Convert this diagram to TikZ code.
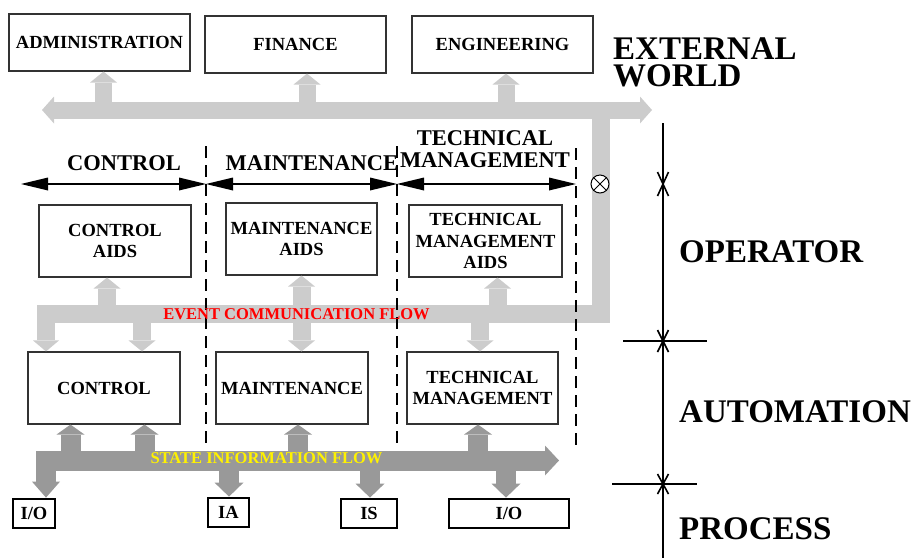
\documentclass[tikz,border=0pt]{standalone}
\usepackage{fontspec}
\setmainfont{Liberation Serif}
\usepackage{xcolor}
\usetikzlibrary{arrows.meta, positioning}

\definecolor{eventgrey}{HTML}{CCCCCC}
\definecolor{stategrey}{HTML}{999999}

\begin{document}
\begin{tikzpicture}[
  x=1pt, y=-1pt,
  box/.style={draw=black!80, line width=1.1pt, fill=white, minimum width=152pt, minimum height=72pt, align=center, inner sep=2pt, font=\fontsize{18.5}{21.5}\selectfont\bfseries},
  iobox/.style={draw, line width=2.8pt, fill=white, minimum height=29pt, inner sep=0pt, font=\fontsize{18.5}{20}\selectfont\bfseries},
  head/.style={font=\fontsize{22.5}{22}\selectfont\bfseries, align=center, inner sep=0pt},
  level/.style={font=\fontsize{33}{26.5}\selectfont\bfseries, anchor=base west, inner sep=0pt, align=left},
  flow/.style={font=\fontsize{16.5}{17}\selectfont\bfseries, inner sep=0pt},
  evbus/.style={draw=eventgrey, line width=18pt},
  ev/.style={draw=eventgrey, line width=17pt, -{Triangle[width=27pt, length=11pt, line width=0pt]}},
  stbus/.style={draw=stategrey, line width=20pt},
  st/.style={draw=stategrey, line width=20pt, -{Triangle[width=29pt, length=12pt, line width=0pt]}},
  span/.style={line width=2pt, {Triangle[width=13pt, length=27pt, line width=0pt]}-{Triangle[width=13pt, length=27pt, line width=0pt]}},
  divider/.style={line width=2.2pt, dash pattern=on 12pt off 7pt},
  tick/.style={line width=1.6pt}
]
\useasboundingbox (0,0) rectangle (916,558);

% Nodes
\node[box, minimum width=181pt, minimum height=57pt] (admin) at (99.5,42.5) {ADMINISTRATION};
\node[box, minimum width=181pt, minimum height=57pt] (finance) at (295.5,44.5) {FINANCE};
\node[box, minimum width=181pt, minimum height=57pt] (engin) at (502.5,44.5) {ENGINEERING};

\node[box] (caids) at (115,241) {CONTROL\\AIDS};
\node[box, minimum width=151pt] (maids) at (301.5,239) {MAINTENANCE\\AIDS};
\node[box, minimum width=153pt] (taids) at (485.5,241) {TECHNICAL\\MANAGEMENT\\AIDS};

\node[box] (ctrl) at (104,388) {CONTROL};
\node[box] (maint) at (292,388) {MAINTENANCE};
\node[box, minimum width=151pt] (tech) at (482.5,388) {TECHNICAL\\MANAGEMENT};

\node[iobox, minimum width=42pt] (io1) at (34,513.5) {I/O};
\node[iobox, minimum width=41pt] (ia) at (228.5,512.5) {IA};
\node[iobox, minimum width=56pt] (is) at (369,513.5) {IS};
\node[iobox, minimum width=120pt] (io2) at (509,513.5) {I/O};

\node[head] (hctrl) at (124,163.5) {CONTROL};
\node[head] (hmaint) at (312,163.5) {MAINTENANCE};
\node[head] (htech) at (485,149) {TECHNICAL\\MANAGEMENT};

\node[level] (world) at (613,86) {EXTERNAL\\WORLD};
\node[level] (oper) at (679,262) {OPERATOR};
\node[level] (auto) at (679,422) {AUTOMATION};
\node[level] (proc) at (679,539) {PROCESS};

% Bus points
\coordinate (tl) at (42,110);
\coordinate (tr) at (652,110);
\coordinate (ta) at (103.5,110);
\coordinate (tf) at (307,110);
\coordinate (te) at (506,110);
\coordinate (e0) at (46,314);
\coordinate (e1) at (107,314);
\coordinate (e2) at (142,314);
\coordinate (e3) at (301.5,314);
\coordinate (e4) at (480,314);
\coordinate (e5) at (497.5,314);
\coordinate (e9) at (601,314);
\coordinate (s0) at (46,460.5);
\coordinate (s1) at (70.5,460.5);
\coordinate (s2) at (144.5,460.5);
\coordinate (s3) at (229,460.5);
\coordinate (s4) at (298,460.5);
\coordinate (s5) at (370,460.5);
\coordinate (s6) at (478,460.5);
\coordinate (s7) at (506,460.5);
\coordinate (s9) at (559,460.5);

% Grey buses
\draw[evbus, line width=17pt, {Triangle[width=27pt, length=12pt, line width=0pt]}-{Triangle[width=27pt, length=12pt, line width=0pt]}] (tl) -- (tr);
\foreach \p/\n in {ta/admin, tf/finance, te/engin}
  \draw[ev] (\p) -- (\p |- \n.south);
\draw[evbus, {Triangle[width=26pt, length=11pt, line width=0pt]}-] (e0 |- ctrl.north) -- (e0) -- (e9) -- (e9 |- tl);
\foreach \p/\n in {e1/caids, e3/maids, e5/taids}
  \draw[ev, line width=18pt] (\p) -- (\p |- \n.south);
\foreach \p/\n in {e2/ctrl, e3/maint, e4/tech}
  \draw[ev, line width=18pt] (\p) -- (\p |- \n.north);

\draw[stbus, {Triangle[width=28pt, length=16pt, line width=0pt]}-{Triangle[width=30pt, length=14pt, line width=0pt]}] (s0 |- io1.north) -- (s0) -- (s9);
\foreach \p/\n in {s1/ctrl, s2/ctrl, s4/maint, s6/tech}
  \draw[st, -{Triangle[width=28pt, length=10pt, line width=0pt]}] (\p) -- (\p |- \n.south);
\foreach \p/\n in {s3/ia, s5/is, s7/io2}
  \draw[st, -{Triangle[width=29pt, length=14pt, line width=0pt]}] (\p) -- (\p |- \n.north);

% Areas
\coordinate (d0) at (21,184);
\coordinate (d1) at (206,184);
\coordinate (d2) at (397,184);
\coordinate (d3) at (576,184);
\draw[span] (d0) -- (d1);
\draw[span] (d1) -- (d2);
\draw[span] (d2) -- (d3);
\draw[divider] (206,146) -- (206,443);
\draw[divider] (397,146) -- (397,443);
\draw[divider] (576,148) -- (576,445);

\node[flow, text=red] (evtxt) at (296.5,314) {EVENT COMMUNICATION FLOW};
\node[flow, text=yellow] (sttxt) at (266.5,458.5) {STATE INFORMATION FLOW};

\node[circle, draw, fill=white, line width=1pt, minimum size=18pt, inner sep=0pt] (xo) at (600,184) {};
\draw[line width=1pt] (xo.north west) -- (xo.south east) (xo.north east) -- (xo.south west);

% Levels
\draw[tick] (663,123) -- (663,558);
\draw[tick] (623,341) -- (707,341);
\draw[tick] (612,484) -- (697,484);
\foreach \y/\h in {184/12, 341/11, 484/10}
  \draw[tick] (657.5,\y-\h) -- (668.5,\y+\h) (668.5,\y-\h) -- (657.5,\y+\h);
\end{tikzpicture}
\end{document}
